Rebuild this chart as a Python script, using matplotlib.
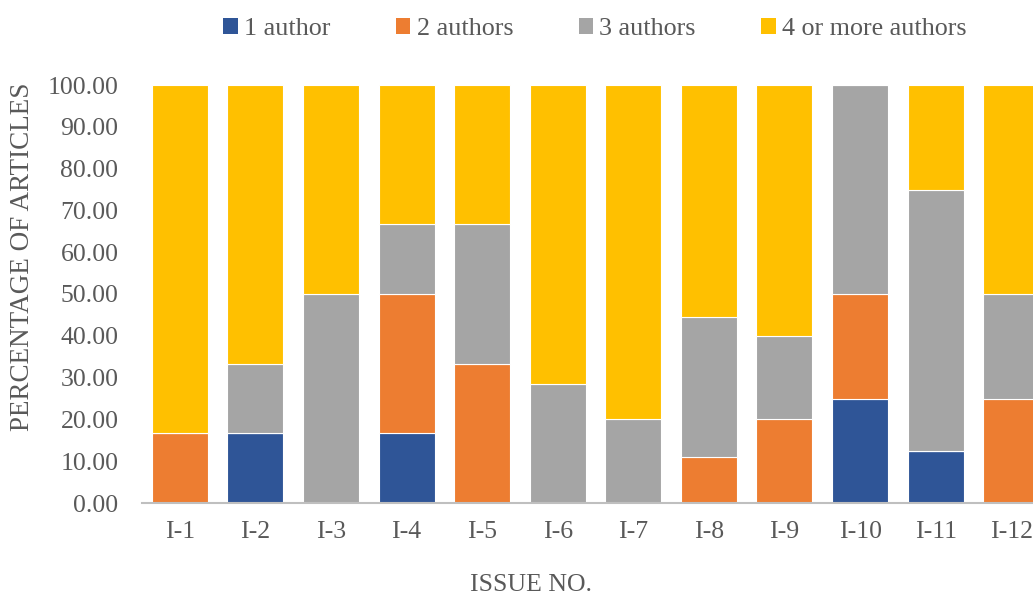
import matplotlib
matplotlib.use("Agg")
import matplotlib.pyplot as plt
import numpy as np
from matplotlib.patches import Patch

issues = ["I-1", "I-2", "I-3", "I-4", "I-5", "I-6", "I-7", "I-8", "I-9", "I-10", "I-11", "I-12"]
one_author = [0, 16.67, 0, 16.67, 0, 0, 0, 0, 0, 25.00, 12.50, 0]
two_authors = [16.67, 0, 0, 33.33, 33.33, 0, 0, 11.11, 20.00, 25.00, 0, 25.00]
three_authors = [0, 16.67, 50.00, 16.67, 33.33, 28.57, 20.00, 33.33, 20.00, 50.00, 62.50, 25.00]
four_plus = [83.33, 66.67, 50.00, 33.33, 33.33, 71.43, 80.00, 55.56, 60.00, 0, 25.00, 50.00]
series_names = ["1 author", "2 authors", "3 authors", "4 or more authors"]
y_ticks = [0, 10, 20, 30, 40, 50, 60, 70, 80, 90, 100]

colors = ["#2F5597", "#ED7D31", "#A5A5A5", "#FFC000"]
text_color = "#595959"

plt.rcParams["font.family"] = ["Liberation Serif", "DejaVu Serif"]

W, H = 1033, 599
fig = plt.figure(figsize=(W / 100, H / 100), dpi=100)
ax = fig.add_axes([142 / W, 1 - 503 / H, 907 / W, (503 - 85) / H])

x = np.arange(len(issues))
bottom = np.zeros(len(issues))
for vals, col in zip([one_author, two_authors, three_authors, four_plus], colors):
    vals = np.array(vals, dtype=float)
    ax.bar(x, vals, width=0.74, bottom=bottom, color=col,
           edgecolor="white", linewidth=0.8, zorder=2)
    bottom += vals

ax.set_xlim(-0.5, len(issues) - 0.5)
ax.set_ylim(0, 100)
ax.set_yticks(y_ticks)
ax.set_yticklabels([f"{v:.2f}" for v in y_ticks])
ax.set_xticks(x)
ax.set_xticklabels(issues)
ax.tick_params(axis="both", length=0, labelsize=18.5, colors=text_color)
ax.tick_params(axis="y", pad=17)
ax.tick_params(axis="x", pad=13)

for side in ["top", "right", "left"]:
    ax.spines[side].set_visible(False)
ax.spines["bottom"].set_color("#BFBFBF")
ax.spines["bottom"].set_linewidth(1.5)

fig.text(23 / W, 1 - 257 / H, "PERCENTAGE OF ARTICLES", rotation=90,
         ha="center", va="center", fontsize=19.5, color=text_color)
fig.text(531 / W, 1 - 585 / H, "ISSUE NO.", ha="center", va="center",
         fontsize=18.5, color=text_color)

handles = [Patch(facecolor=c, edgecolor="none") for c in colors]
fig.legend(handles, series_names, loc="center", bbox_to_anchor=(595 / W, 1 - 29 / H),
           ncol=4, frameon=False, fontsize=18.8, labelcolor=text_color,
           handlelength=0.55, handleheight=0.55, handletextpad=0.25,
           columnspacing=2.5)

fig.savefig("out.png", dpi=100)
